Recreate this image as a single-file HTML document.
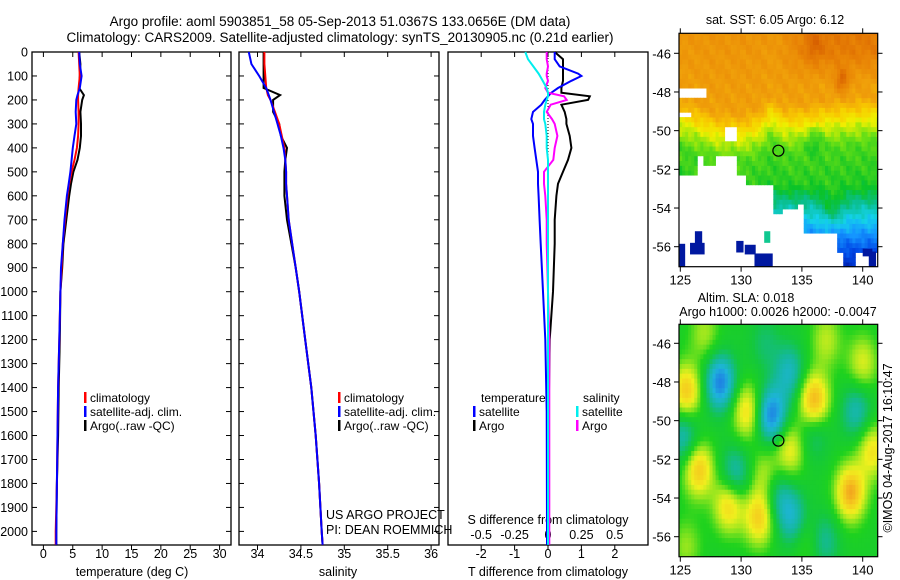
<!DOCTYPE html>
<html><head><meta charset="utf-8"><title>Argo profile</title>
<style>
html,body{margin:0;padding:0;background:#fff;}
svg{display:block;font-family:"Liberation Sans",sans-serif;}
text{fill:#000;}
</style></head>
<body>
<svg id="fig" width="900" height="580" viewBox="0 0 900 580" xmlns="http://www.w3.org/2000/svg">
<text x="340" y="26" font-size="13.5" text-anchor="middle">Argo profile: aoml 5903851_58 05-Sep-2013 51.0367S 133.0656E (DM data)</text>
<text x="340" y="42" font-size="13.5" text-anchor="middle">Climatology: CARS2009. Satellite-adjusted climatology: synTS_20130905.nc (0.21d earlier)</text>
<g id="profiles"></g>
<g id="maps"></g>
<text x="775" y="24" font-size="12.5" text-anchor="middle">sat. SST: 6.05 Argo: 6.12</text>
<text x="746" y="302" font-size="12.5" text-anchor="middle">Altim. SLA: 0.018</text>
<text x="778" y="316" font-size="12.5" text-anchor="middle">Argo h1000: 0.0026 h2000: -0.0047</text>
<text transform="translate(892,448) rotate(-90)" font-size="12.5" text-anchor="middle">©IMOS 04-Aug-2017 16:10:47</text>
<text x="326" y="519" font-size="12.5">US ARGO PROJECT</text>
<text x="326" y="534" font-size="12.5">PI: DEAN ROEMMICH</text>
</svg>
<script>
// ---------- profile data ----------
const depthsTS = [0,50,100,150,180,200,250,300,350,400,450,500,550,600,700,800,900,1000,1200,1400,1600,1800,2000,2056];
const climT = [6.0,6.1,6.2,6.0,5.9,5.9,6.0,6.0,5.9,5.7,5.3,4.8,4.4,4.1,3.7,3.3,3.1,2.9,2.7,2.5,2.4,2.3,2.1,2.1];
const satT  = [6.1,6.2,6.5,6.2,5.8,5.6,5.5,5.6,5.3,5.0,4.8,4.6,4.3,4.0,3.6,3.3,3.0,2.9,2.7,2.5,2.4,2.3,2.2,2.2];
const argoT = [6.1,6.3,6.2,6.1,6.9,6.6,6.3,6.4,6.4,6.2,5.8,5.1,4.7,4.4,3.9,3.4,3.2,2.9,2.8,2.6,2.5,2.3,2.2,2.2];
const climS = [34.08,34.08,34.09,34.10,34.12,34.15,34.20,34.25,34.28,34.31,34.32,34.33,34.33,34.34,34.36,34.40,34.44,34.48,34.55,34.62,34.67,34.71,34.74,34.75];
const satS  = [33.90,33.93,34.02,34.10,34.13,34.15,34.19,34.23,34.27,34.30,34.32,34.33,34.33,34.34,34.36,34.40,34.44,34.48,34.55,34.62,34.67,34.71,34.74,34.75];
const argoS = [34.07,34.07,34.07,34.07,34.26,34.18,34.18,34.25,34.27,34.34,34.32,34.31,34.31,34.31,34.34,34.39,34.44,34.48,34.55,34.62,34.67,34.71,34.74,34.75];
const depthsD = [0,30,60,90,100,120,150,170,185,200,220,250,280,300,350,400,450,500,550,600,700,800,1000,1200,1500,2000,2056];
const satTd  = [0.2,0.2,0.35,0.9,1.0,0.7,0.3,0.1,0.0,-0.1,-0.2,-0.45,-0.5,-0.45,-0.45,-0.4,-0.35,-0.3,-0.3,-0.28,-0.25,-0.22,-0.15,-0.08,-0.04,-0.03,-0.03];
const argoTd = [0.2,0.45,0.45,0.45,0.45,0.45,0.4,0.4,1.25,1.2,0.4,0.5,0.55,0.55,0.65,0.7,0.6,0.45,0.3,0.25,0.2,0.2,0.15,0.05,0.02,0.0,0.0];
const satSd  = [-0.17,-0.15,-0.11,-0.07,-0.06,-0.04,-0.01,0.0,0.0,-0.01,-0.02,-0.03,-0.03,-0.02,-0.01,-0.01,0,0,0,0,0,0,0,0,0,0,0];
const argoSd = [-0.01,-0.01,0,-0.01,-0.01,0,-0.02,0.0,0.12,0.14,0.02,-0.01,0.03,0.05,0.07,0.05,0.04,-0.03,-0.03,-0.02,-0.01,-0.01,0.0,0.01,0.01,0.01,0.01];
const depthTicks = [0,100,200,300,400,500,600,700,800,900,1000,1100,1200,1300,1400,1500,1600,1700,1800,1900,2000];
const tempTicks = [0,5,10,15,20,25,30];
const salTicks = [34,34.5,35,35.5,36];
const salTickLabels = ["34","34.5","35","35.5","36"];
const tdTicks = [-2,-1,0,1,2];
const sdTicks = [-0.5,-0.25,0,0.25,0.5];
const sdTickLabels = ["-0.5","-0.25","0","0.25","0.5"];
const latTicks = [-46,-48,-50,-52,-54,-56];
const lonTicks = [125,130,135,140];
const argoLon = 133.0656, argoLat = -51.0367;
// SLA blobs: lon, lat, amplitude
const slaBlobs = [[125.5,-48.5,0.9],[130.5,-49.5,0.75],[136,-49,1.1],[126.5,-52.5,0.9],[129,-54.3,0.85],[131.5,-55,0.85],[139,-53.7,1.05],[134,-51.5,0.65],[140.8,-51.5,0.7],[132,-52.8,0.45],[140,-47,0.55],[137,-45.8,0.45],[127,-45.5,0.4],[135.5,-56.2,0.3],[125.5,-56.5,0.35],
 [128.3,-48,-1.1],[132.5,-49.7,-1.1],[134,-47.5,-0.65],[139.5,-49.5,-0.6],[125.3,-50.8,-0.65],[129.5,-52.8,-0.65],[134.2,-55,-0.65],[133,-53.8,-0.5],[136,-50.5,-0.45],[136.8,-56.2,-0.5],[132,-46,-0.3]];

const NS = "http://www.w3.org/2000/svg";
function mk(tag, attrs, parent){const e=document.createElementNS(NS,tag);for(const k in attrs)e.setAttribute(k,attrs[k]);parent.appendChild(e);return e;}
const P = document.getElementById('profiles');
const yD = d => 52 + d*0.2397;
const PY0 = 52, PY1 = 545;
const xT = t => 43.4 + t*5.873;
const xS = s => 257.5 + (s-34)*86.8;
const xTd = t => 548 + t*33.4;
const xSd = s => 548 + s*133.6;

function frame(x0,x1,name){
  const r = mk('rect',{x:x0,y:PY0,width:x1-x0,height:PY1-PY0,fill:'none',stroke:'#000','stroke-width':1.3},P);
  
  
}
function line(xs, ds, fx, color, w, name){
  let d='';
  for(let i=0;i<xs.length;i++){d+=(i?'L':'M')+fx(xs[i]).toFixed(1)+','+yD(ds[i]).toFixed(1);}
  const p = mk('path',{d:d,fill:'none',stroke:color,'stroke-width':w,'stroke-linejoin':'miter'},P);
  
  
}
function txt(x,y,s,anchor,size,name,parent){
  const t = mk('text',{x:x,y:y,'font-size':size||12.5,'text-anchor':anchor||'start'},parent||P);
  t.textContent = s;
  
  
  return t;
}
frame(32,231,'temperature-panel-frame');
frame(239,439,'salinity-panel-frame');
frame(448,648,'difference-panel-frame');
depthTicks.forEach(d=>{
  const y=yD(d);
  [[32,37],[226,231],[239,244],[434,439]].forEach(([a,b])=>{const l=mk('line',{x1:a,x2:b,y1:y,y2:y,stroke:'#000','stroke-width':1},P);
    
    });
  txt(28,y+4.5,String(d),'end',12.5,'depth-tick-label');
});
tempTicks.forEach(t=>{
  const x=xT(t);
  const a=mk('line',{x1:x,x2:x,y1:PY0,y2:PY0+5,stroke:'#000'},P);
  
  
  const b=mk('line',{x1:x,x2:x,y1:PY1,y2:PY1+5,stroke:'#000'},P);
  
  
  txt(x,558,String(t),'middle',12.5,'temp-tick-label');
});
txt(132,576,'temperature (deg C)','middle',12.5,'temperature-axis-title');
salTicks.forEach((s,i)=>{
  const x=xS(s);
  const a=mk('line',{x1:x,x2:x,y1:PY0,y2:PY0+5,stroke:'#000'},P);
  
  
  const b=mk('line',{x1:x,x2:x,y1:PY1,y2:PY1+5,stroke:'#000'},P);
  
  
  txt(x,558,salTickLabels[i],'middle',12.5,'sal-tick-label');
});
txt(338,576,'salinity','middle',12.5,'salinity-axis-title');
tdTicks.forEach(t=>{
  const x=xTd(t);
  const a=mk('line',{x1:x,x2:x,y1:PY0,y2:PY0+5,stroke:'#000'},P);
  
  
  const b=mk('line',{x1:x,x2:x,y1:PY1,y2:PY1+5,stroke:'#000'},P);
  
  
  txt(x,558,String(t),'middle',12.5,'tdiff-tick-label');
});
sdTicks.forEach((s,i)=>{ txt(xSd(s),539,sdTickLabels[i],'middle',12.5,'sdiff-tick-label'); });
txt(548,524,'S difference from climatology','middle',12.5,'sdiff-axis-title');
txt(548,576,'T difference from climatology','middle',12.5,'tdiff-axis-title');
const zl=mk('line',{x1:xTd(0),x2:xTd(0),y1:PY0,y2:PY1,stroke:'#000','stroke-dasharray':'1,2','stroke-width':1},P);


line(argoT, depthsTS, xT, '#000', 2, 'argo-temperature-line');
line(climT, depthsTS, xT, '#f00', 2, 'clim-temperature-line');
line(satT, depthsTS, xT, '#00f', 2, 'sat-temperature-line');
line(argoS, depthsTS, xS, '#000', 2, 'argo-salinity-line');
line(climS, depthsTS, xS, '#f00', 2, 'clim-salinity-line');
line(satS, depthsTS, xS, '#00f', 2, 'sat-salinity-line');
line(argoTd, depthsD, xTd, '#000', 2, 'argo-tdiff-line');
line(satTd, depthsD, xTd, '#00f', 2, 'sat-tdiff-line');
line(argoSd, depthsD, xSd, '#f0f', 2, 'argo-sdiff-line');
line(satSd, depthsD, xSd, '#0ee', 2, 'sat-sdiff-line');
function legend(x,y,color,label,name){
  const r=mk('rect',{x:x,y:y-10,width:2.5,height:11,fill:color},P);
  
  
  txt(x+6,y,label,'start',12,name);
}
[[84,'#f00','climatology'],[84,'#00f','satellite-adj. clim.'],[84,'#000','Argo(..raw -QC)']].forEach((e,i)=>legend(e[0],402+i*14,e[1],e[2],'temp-legend-entry'));
[[338,'#f00','climatology'],[338,'#00f','satellite-adj. clim.'],[338,'#000','Argo(..raw -QC)']].forEach((e,i)=>legend(e[0],402+i*14,e[1],e[2],'sal-legend-entry'));
txt(481,402,'temperature','start',12,'diff-legend-temperature-heading');
txt(583,402,'salinity','start',12,'diff-legend-salinity-heading');
legend(473,416,'#00f','satellite','diff-legend-t-satellite');
legend(473,430,'#000','Argo','diff-legend-t-argo');
legend(576,416,'#0ee','satellite','diff-legend-s-satellite');
legend(576,430,'#f0f','Argo','diff-legend-s-argo');

// ---------- maps ----------
const M = document.getElementById('maps');
const LON0=124.9, LON1=141.23, PXLON=12.16, PXLAT=19.34;
function mapAxes(top, bottom, latRef){
  const xL = lon => 680.3 + (lon-125)*PXLON;
  const yL = lat => latRef - (lat+46)*PXLAT;
  return {xL,yL,top,bottom};
}
const sstAx = mapAxes(33.3, 266.7, 53.3);
const slaAx = mapAxes(324.3, 556.7, 343.3);
function lerp(a,b,t){return a+(b-a)*t;}
function cm(stops,v){
  if(v<=stops[0][0])return 'rgb('+stops[0][1].join(',')+')';
  for(let i=1;i<stops.length;i++){if(v<=stops[i][0]){const t=(v-stops[i-1][0])/(stops[i][0]-stops[i-1][0]);const a=stops[i-1][1],b=stops[i][1];return 'rgb('+Math.round(lerp(a[0],b[0],t))+','+Math.round(lerp(a[1],b[1],t))+','+Math.round(lerp(a[2],b[2],t))+')';}}
  return 'rgb('+stops[stops.length-1][1].join(',')+')';
}
const sstStops=[[2.6,[0,10,140]],[3.4,[0,70,230]],[3.9,[20,150,255]],[4.3,[20,210,235]],[4.7,[10,190,140]],[5.05,[10,195,40]],[5.5,[110,225,20]],[5.9,[240,240,0]],[6.25,[248,200,0]],[6.6,[240,160,10]],[7.1,[232,130,5]],[7.6,[215,95,0]],[8.3,[170,20,0]]];
const slaStops=[[-1.2,[30,110,230]],[-0.8,[30,180,220]],[-0.45,[20,185,150]],[-0.15,[20,200,60]],[0.1,[30,210,30]],[0.35,[150,230,30]],[0.6,[240,240,30]],[0.9,[245,200,30]],[1.2,[240,140,30]]];
function front(lon){
  const k=[[124,-49.4],[125,-49.5],[128,-50.2],[130,-50.3],[131.5,-50.0],[132.5,-49.3],[133.5,-49.8],[135,-49.8],[137,-49.6],[140,-49.4],[142,-49.3]];
  for(let i=1;i<k.length;i++){if(lon<=k[i][0]){const t=(lon-k[i-1][0])/(k[i][0]-k[i-1][0]);return lerp(k[i-1][1],k[i][1],t);}}
  return -49.3;
}
function g(lon,lat,cx,cy,r){return Math.exp(-((lon-cx)*(lon-cx)+(lat-cy)*(lat-cy))/(r*r));}
function ga(lon,lat,cx,cy,rx,ry){return Math.exp(-((lon-cx)*(lon-cx)/(rx*rx)+(lat-cy)*(lat-cy)/(ry*ry)));}
function sst(lon,lat){
  const F=front(lon); let T;
  const tex=0.1*Math.sin(lon*7.3)*Math.sin(lat*5.1)+0.07*Math.sin(lon*3.1+lat*4.7);
  if(lat>F){const d=lat-F;T=5.95+Math.min(d,1.2)*0.55+Math.max(0,d-1.2)*0.05+0.45*Math.max(0,Math.min(1,(lon-133)/3))*Math.max(0,Math.min(1,(lat+47.5)/1.5))+0.8*g(lon,lat,138.3,-47.4,0.55)+0.3*g(lon,lat,136,-45.6,0.7);}
  else{const d=F-lat;T=5.9-0.55*Math.min(d/1.3,1)-0.1*Math.max(0,Math.min(d-1.3,2))-0.5*Math.max(0,Math.min(-52.8-lat,1))-0.5*Math.max(0,-53.8-lat)+0.4*g(lon,lat,137.5,-54,0.9)-0.35*g(lon,lat,136,-50.5,0.7);}
  return T+tex;
}
function masked(lon,lat){
  if(lon>=125&&lon<127.2&&lat<-47.7&&lat>-48.2)return true;
  if(lon>=125&&lon<125.8&&lat<-49&&lat>-49.4)return true;
  if(lon>=128.6&&lon<129.6&&lat<-49.9&&lat>-50.5)return true;
  if(lon<129.7&&lat<-51.2&&!(lon<126.5&&lat>-52.4)&&!(lon>126.8&&lon<128&&lat>-51.9))return true;
  if(lon<132.7&&lat<-52.3&&!(lon>130.5&&lat>-52.8))return true;
  if(lon<135.2&&lat<-54.3+(lon-132.7)*0.2)return true;
  if(lon<138&&lat<-55.4)return true;
  if(lat<-56.3&&!(lon>138.5&&lon<139.5))return true;
  return false;
}
const navy=[[124.9,-57.05,0.5,1.2],[125.8,-56.4,1.2,0.6],[126.2,-56,0.6,0.8],[129.6,-56.3,0.6,0.6],[130.3,-56.4,0.9,0.5],[131.1,-57.05,1.5,0.7],[140.5,-57.05,0.6,0.8],[140,-56.5,0.8,0.4]];
function drawField(ax, fn, name, maskFn){
  const step=0.25;
  const grp=mk('g',{},M);
  
  
  for(let lon=LON0;lon<LON1;lon+=step){
    for(let lat=-57.05;lat<-44.95;lat+=step){
      const x0=ax.xL(lon),x1=ax.xL(Math.min(lon+step,LON1));
      const y0=Math.max(ax.yL(lat+step),ax.top),y1=Math.min(ax.yL(lat),ax.bottom);
      if(y1<=y0)continue;
      const clon=lon+step/2, clat=lat+step/2;
      if(maskFn&&maskFn(clon,clat))continue;
      mk('rect',{x:x0.toFixed(2),y:y0.toFixed(2),width:(x1-x0+0.4).toFixed(2),height:(y1-y0+0.4).toFixed(2),fill:fn(clon,clat)},grp);
    }
  }
}
drawField(sstAx,(lo,la)=>cm(sstStops,sst(lo,la)),'sst-map-field',masked);
navy.forEach(n=>{const r=mk('rect',{x:sstAx.xL(n[0]),y:sstAx.yL(n[1]+n[3]),width:n[2]*PXLON,height:n[3]*PXLAT,fill:'#0018a0'},M);
  
  });
const tp=mk('rect',{x:sstAx.xL(131.9),y:sstAx.yL(-55.2),width:0.5*PXLON,height:0.6*PXLAT,fill:'#10c890'},M);


drawField(slaAx,(lo,la)=>{let v=0;slaBlobs.forEach(b=>{v+=b[2]*ga(lo,la,b[0],b[1],1.25,1.45);});return cm(slaStops,v);},'sla-map-field',null);
[[sstAx,'sst'],[slaAx,'sla']].forEach(([ax,nm])=>{
  const fr=mk('rect',{x:679,y:ax.top,width:198.7,height:ax.bottom-ax.top,fill:'none',stroke:'#000','stroke-width':1.2},M);
  
  
  latTicks.forEach(la=>{
    const y=ax.yL(la);
    const t1=mk('line',{x1:674,x2:679,y1:y,y2:y,stroke:'#000'},M);
    
    
    const t2=mk('line',{x1:877.7,x2:882.5,y1:y,y2:y,stroke:'#000'},M);
    
    
    txt(671,y+5,String(la),'end',13,nm+'-lat-label',M);
  });
  lonTicks.forEach(lo=>{
    const x=ax.xL(lo);
    const t1=mk('line',{x1:x,x2:x,y1:ax.top-5,y2:ax.top,stroke:'#000'},M);
    
    
    const t2=mk('line',{x1:x,x2:x,y1:ax.bottom,y2:ax.bottom+5,stroke:'#000'},M);
    
    
    txt(x,ax.bottom+18,String(lo),'middle',13,nm+'-lon-label',M);
  });
  const c=mk('circle',{cx:ax.xL(argoLon),cy:ax.yL(argoLat),r:5.5,fill:'none',stroke:'#000','stroke-width':1.2},M);
  
  
});
</script>
</body></html>
